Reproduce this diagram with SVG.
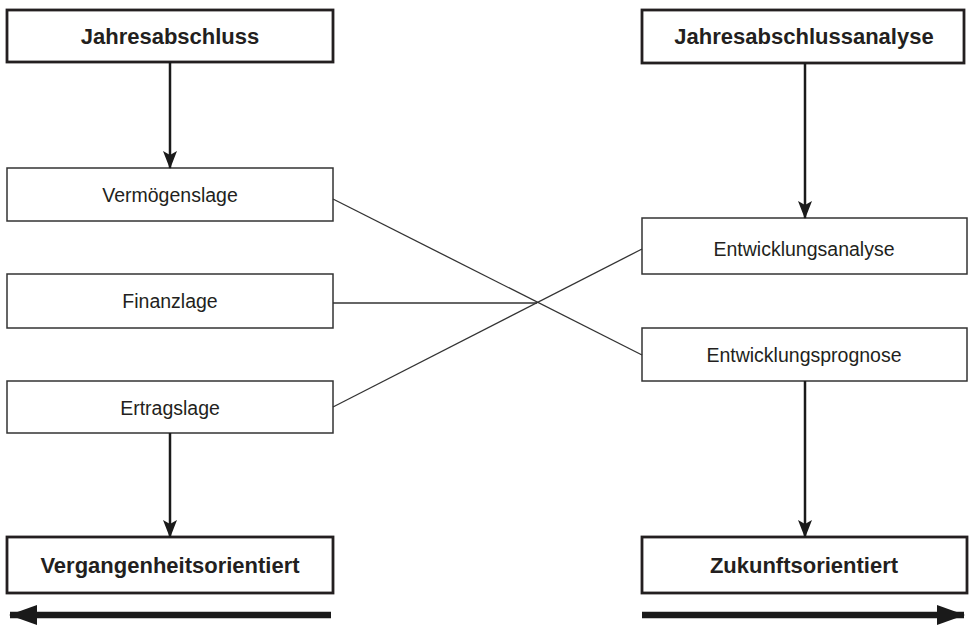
<svg xmlns="http://www.w3.org/2000/svg" width="970" height="625" viewBox="0 0 970 625">
  <style>
    .box { fill: #ffffff; stroke: #333333; stroke-width: 1.5; }
    .box-bold { fill: #ffffff; stroke: #231f20; stroke-width: 2.8; }
    .label { font-family: "Liberation Sans", Arial, sans-serif; font-size: 19.5px; fill: #231f20; text-anchor: middle; }
    .title { font-family: "Liberation Sans", Arial, sans-serif; font-size: 22px; font-weight: bold; fill: #231f20; text-anchor: middle; }
    .flow { stroke: #1a1a1a; stroke-width: 2.5; fill: none; }
    .link { stroke: #333333; stroke-width: 1.3; fill: none; }
    .timeline { stroke: #1a1a1a; stroke-width: 6.5; fill: none; }
  </style>
  <defs>
    <marker id="head" markerUnits="userSpaceOnUse" markerWidth="18" markerHeight="14" refX="17" refY="7" orient="auto" viewBox="0 0 18 14">
      <path d="M0,0 L18,7 L0,14 L4,7 Z" fill="#1a1a1a"/>
    </marker>
    <marker id="bighead" markerUnits="userSpaceOnUse" markerWidth="28" markerHeight="20" refX="27" refY="10" orient="auto" viewBox="0 0 28 20">
      <path d="M0,0 L28,10 L0,20 Z" fill="#1a1a1a"/>
    </marker>
  </defs>

  <!-- left column -->
  <g id="jahresabschluss">
    <rect class="box-bold" x="7" y="10" width="326" height="52"/>
    <text class="title" x="170" y="44">Jahresabschluss</text>
  </g>
  <g id="vermoegenslage">
    <rect class="box" x="7" y="168" width="326" height="53"/>
    <text class="label" x="170" y="202">Vermögenslage</text>
  </g>
  <g id="finanzlage">
    <rect class="box" x="7" y="274" width="326" height="54"/>
    <text class="label" x="170" y="308">Finanzlage</text>
  </g>
  <g id="ertragslage">
    <rect class="box" x="7" y="381" width="326" height="52"/>
    <text class="label" x="170" y="415">Ertragslage</text>
  </g>
  <g id="vergangenheitsorientiert">
    <rect class="box-bold" x="7" y="537" width="326" height="56"/>
    <text class="title" x="170" y="573">Vergangenheitsorientiert</text>
  </g>

  <!-- right column -->
  <g id="jahresabschlussanalyse">
    <rect class="box-bold" x="642" y="10" width="322" height="53"/>
    <text class="title" x="804" y="44">Jahresabschlussanalyse</text>
  </g>
  <g id="entwicklungsanalyse">
    <rect class="box" x="642" y="218" width="325" height="56"/>
    <text class="label" x="804" y="256">Entwicklungsanalyse</text>
  </g>
  <g id="entwicklungsprognose">
    <rect class="box" x="642" y="328" width="325" height="53"/>
    <text class="label" x="804" y="362">Entwicklungsprognose</text>
  </g>
  <g id="zukunftsorientiert">
    <rect class="box-bold" x="642" y="537" width="325" height="56"/>
    <text class="title" x="804" y="573">Zukunftsorientiert</text>
  </g>

  <!-- connectors -->
  <g id="connectors">
    <line class="flow" x1="170" y1="62" x2="170" y2="168" marker-end="url(#head)"/>
    <line class="flow" x1="170" y1="433" x2="170" y2="537" marker-end="url(#head)"/>
    <line class="flow" x1="805" y1="63" x2="805" y2="218" marker-end="url(#head)"/>
    <line class="flow" x1="805" y1="381" x2="805" y2="537" marker-end="url(#head)"/>

    <line class="link" x1="333" y1="199" x2="642" y2="355"/>
    <line class="link" x1="333" y1="303" x2="537" y2="303"/>
    <line class="link" x1="333" y1="407" x2="642" y2="249"/>

    <line class="timeline" x1="331" y1="615" x2="10" y2="615" marker-end="url(#bighead)"/>
    <line class="timeline" x1="642" y1="615" x2="964" y2="615" marker-end="url(#bighead)"/>
  </g>
</svg>
